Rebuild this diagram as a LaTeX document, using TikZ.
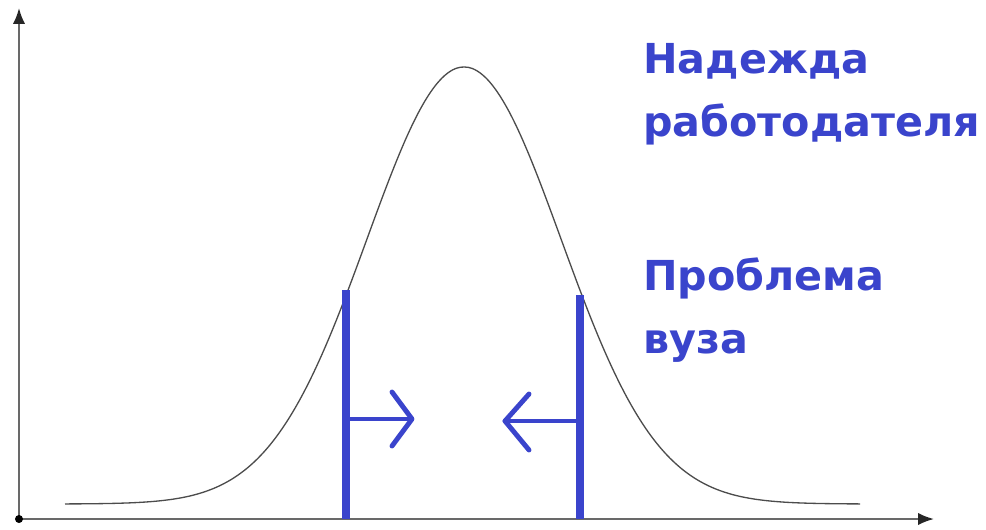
\documentclass[tikz,border=0pt]{standalone}
\usepackage{fontspec}
\setmainfont{DejaVu Sans}
\usetikzlibrary{arrows.meta}
\definecolor{labblue}{RGB}{58,68,204}
\definecolor{axgray}{RGB}{105,105,105}
\tikzset{
  axis/.style={axgray, line width=1.2pt, -{Latex[length=9pt,width=7pt,color=black!85]}},
  bar/.style={labblue, line width=4.2pt},
  push/.style={labblue, line width=2.8pt, line cap=round, line join=round},
  lab/.style={labblue, anchor=base west, inner sep=0pt, font=\fontsize{23.5}{28}\selectfont\bfseries}
}
\begin{document}
\begin{tikzpicture}[x=0.02cm, y=-0.02cm]
		\useasboundingbox (0,0) rectangle (986,529);
		%axes
		\coordinate (o) at (19,519);
		\coordinate (ytop) at (19,8);
		\coordinate (xend) at (934,519);
		\draw[axis] (o) -- (ytop);
		\draw[axis] (o) -- (xend);
		\fill[black] (o) circle (4);
		%curve
		\draw[black!70, line width=0.75pt] plot[domain=65:860, samples=200, smooth]
			(\x, {504 - 437*exp(-((\x-464)/97)^2/2)});
		%bars
		\draw[bar] (346,290) -- (346,519);
		\draw[bar] (580,295) -- (580,519);
		%arrows
		\draw[push] (346,419) -- (412,419);
		\draw[push] (392,392) -- (412,419) -- (392,446);
		\draw[push] (580,421) -- (505,421);
		\draw[push] (529,394) -- (505,421) -- (529,450);
		%labels
		\node[lab] (hope) at (643,73) {Надежда};
		\node[lab] (employer) at (643,136) {работодателя};
		\node[lab] (problem) at (643,290) {Проблема};
		\node[lab] (uni) at (643,353) {вуза};
\end{tikzpicture}
\end{document}
